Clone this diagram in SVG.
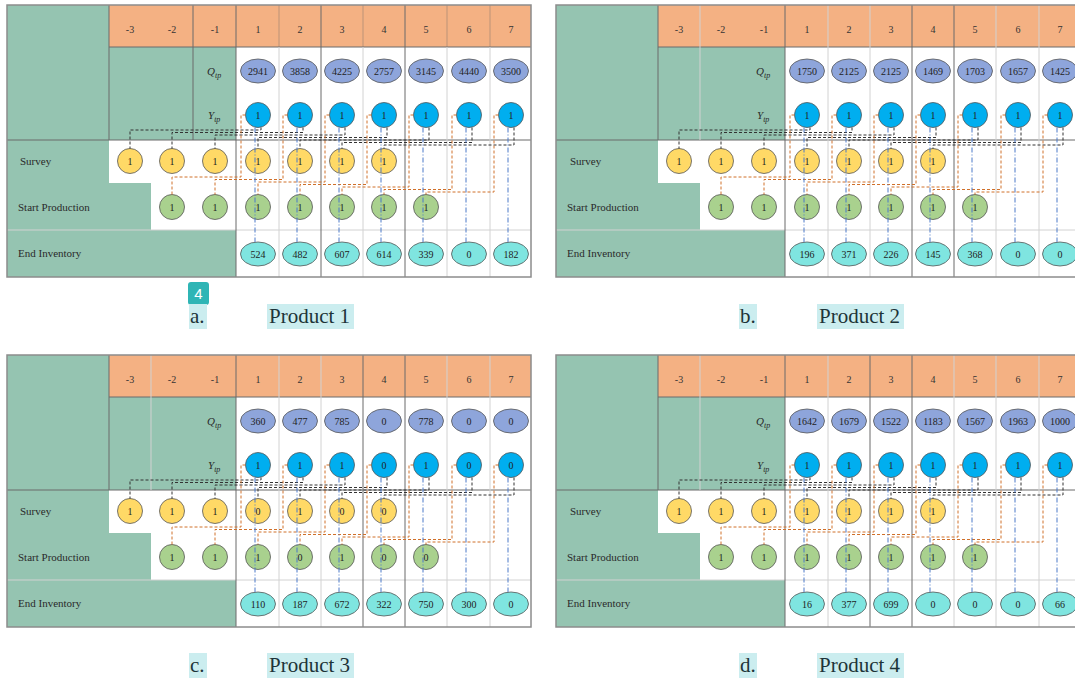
<svg xmlns="http://www.w3.org/2000/svg" xmlns:xlink="http://www.w3.org/1999/xlink" width="1075" height="682" viewBox="0 0 1075 682">
<style>
.g{fill:#95C4B1}
.h{fill:#F4B183}
.ld{stroke:#6a6a6a;stroke-width:1;fill:none}
.ll{stroke:#d2d2d2;stroke-width:1;fill:none}
.q{fill:#8EA5DB;stroke:#555;stroke-width:0.8}
.y{fill:#00AEEF;stroke:#555;stroke-width:0.8}
.s{fill:#FFD966;stroke:#555;stroke-width:0.8}
.sp{fill:#A9D18E;stroke:#555;stroke-width:0.8}
.ei{fill:#7FE5E0;stroke:#555;stroke-width:0.8}
.t{font-family:"Liberation Serif",serif;font-size:10px;text-anchor:middle;dominant-baseline:central;fill:#222}
.hd{font-family:"Liberation Serif",serif;font-size:10px;text-anchor:middle;dominant-baseline:central;fill:#333}
.lb{font-family:"Liberation Serif",serif;font-size:11px;dominant-baseline:central;fill:#2a2a2a}
.it{font-family:"Liberation Serif",serif;font-size:11px;font-style:italic;fill:#2a2a2a}
.blk{fill:none;stroke:#333;stroke-width:1;stroke-dasharray:3 2}
.org{fill:none;stroke:#D0702A;stroke-width:1;stroke-dasharray:3 2}
.blu{fill:none;stroke:#4A78C8;stroke-width:1;stroke-dasharray:5 2 1 2}
.cap{font-family:"Liberation Serif",serif;font-size:21px;fill:#1d3438}
.hl{fill:#CBEDEF}
.frame{fill:none;stroke:#8c8c8c;stroke-width:1.5}
</style>
<defs>
<g id="panelBg">
<rect x="7" y="5" width="524" height="272" fill="#fff"/>
<rect x="7" y="5" width="102" height="272" class="g"/>
<rect x="109" y="47" width="127" height="93" class="g"/>
<rect x="109" y="183" width="42" height="47" class="g"/>
<rect x="109" y="230" width="127" height="47" class="g"/>
<rect x="109" y="5" width="422" height="42" class="h"/>
<path class="ll" d="M7 230H531"/>
<path class="ld" d="M109 5V140M7 140H531M109 47H531M236 5V277"/>
</g>
</defs>

<!-- Panel a -->
<g id="panel-a">
<use xlink:href="#panelBg"/>
<path class="ld" d="M193 5V140M321 5V277M405 5V277"/>
<path class="ll" d="M279 47V277M363 47V277M447 47V277M490 47V277"/>
<path class="ld" d="M279 5V47M363 5V47M447 5V47M490 5V47" opacity="0.4"/>
<rect class="frame" x="7" y="5" width="524" height="272"/>
<g id="a-labels">
<text class="hd" x="130" y="29">-3</text><text class="hd" x="172" y="29">-2</text><text class="hd" x="215" y="29">-1</text><text class="hd" x="258" y="29">1</text><text class="hd" x="300" y="29">2</text><text class="hd" x="342" y="29">3</text><text class="hd" x="384" y="29">4</text><text class="hd" x="426" y="29">5</text><text class="hd" x="469" y="29">6</text><text class="hd" x="511" y="29">7</text>
<text class="it" x="207" y="75">Q<tspan dy="2.5" font-size="8">tp</tspan></text>
<text class="it" x="208" y="119">Y<tspan dy="2.5" font-size="8">tp</tspan></text>
<text class="lb" x="20" y="161">Survey</text>
<text class="lb" x="18" y="207">Start Production</text>
<text class="lb" x="18" y="253">End Inventory</text>
</g>
<g id="a-nodes">
<g id="a-q1"><ellipse class="q" cx="258" cy="71" rx="17.5" ry="12"/><text class="t" x="258" y="71">2941</text></g>
<g id="a-q2"><ellipse class="q" cx="300" cy="71" rx="17.5" ry="12"/><text class="t" x="300" y="71">3858</text></g>
<g id="a-q3"><ellipse class="q" cx="342" cy="71" rx="17.5" ry="12"/><text class="t" x="342" y="71">4225</text></g>
<g id="a-q4"><ellipse class="q" cx="384" cy="71" rx="17.5" ry="12"/><text class="t" x="384" y="71">2757</text></g>
<g id="a-q5"><ellipse class="q" cx="426" cy="71" rx="17.5" ry="12"/><text class="t" x="426" y="71">3145</text></g>
<g id="a-q6"><ellipse class="q" cx="469" cy="71" rx="17.5" ry="12"/><text class="t" x="469" y="71">4440</text></g>
<g id="a-q7"><ellipse class="q" cx="511" cy="71" rx="17.5" ry="12"/><text class="t" x="511" y="71">3500</text></g>
<g id="a-y1"><circle class="y" cx="258" cy="115" r="12.5"/><text class="t" x="258" y="115">1</text></g>
<g id="a-y2"><circle class="y" cx="300" cy="115" r="12.5"/><text class="t" x="300" y="115">1</text></g>
<g id="a-y3"><circle class="y" cx="342" cy="115" r="12.5"/><text class="t" x="342" y="115">1</text></g>
<g id="a-y4"><circle class="y" cx="384" cy="115" r="12.5"/><text class="t" x="384" y="115">1</text></g>
<g id="a-y5"><circle class="y" cx="426" cy="115" r="12.5"/><text class="t" x="426" y="115">1</text></g>
<g id="a-y6"><circle class="y" cx="469" cy="115" r="12.5"/><text class="t" x="469" y="115">1</text></g>
<g id="a-y7"><circle class="y" cx="511" cy="115" r="12.5"/><text class="t" x="511" y="115">1</text></g>
<g id="a-s-3"><circle class="s" cx="130" cy="161" r="12.5"/><text class="t" x="130" y="161">1</text></g>
<g id="a-s-2"><circle class="s" cx="172" cy="161" r="12.5"/><text class="t" x="172" y="161">1</text></g>
<g id="a-s-1"><circle class="s" cx="215" cy="161" r="12.5"/><text class="t" x="215" y="161">1</text></g>
<g id="a-s1"><circle class="s" cx="258" cy="161" r="12.5"/><text class="t" x="258" y="161">1</text></g>
<g id="a-s2"><circle class="s" cx="300" cy="161" r="12.5"/><text class="t" x="300" y="161">1</text></g>
<g id="a-s3"><circle class="s" cx="342" cy="161" r="12.5"/><text class="t" x="342" y="161">1</text></g>
<g id="a-s4"><circle class="s" cx="384" cy="161" r="12.5"/><text class="t" x="384" y="161">1</text></g>
<g id="a-p-2"><circle class="sp" cx="172" cy="207" r="12.5"/><text class="t" x="172" y="207">1</text></g>
<g id="a-p-1"><circle class="sp" cx="215" cy="207" r="12.5"/><text class="t" x="215" y="207">1</text></g>
<g id="a-p1"><circle class="sp" cx="258" cy="207" r="12.5"/><text class="t" x="258" y="207">1</text></g>
<g id="a-p2"><circle class="sp" cx="300" cy="207" r="12.5"/><text class="t" x="300" y="207">1</text></g>
<g id="a-p3"><circle class="sp" cx="342" cy="207" r="12.5"/><text class="t" x="342" y="207">1</text></g>
<g id="a-p4"><circle class="sp" cx="384" cy="207" r="12.5"/><text class="t" x="384" y="207">1</text></g>
<g id="a-p5"><circle class="sp" cx="426" cy="207" r="12.5"/><text class="t" x="426" y="207">1</text></g>
<g id="a-e1"><ellipse class="ei" cx="258" cy="254" rx="17.5" ry="12"/><text class="t" x="258" y="254">524</text></g>
<g id="a-e2"><ellipse class="ei" cx="300" cy="254" rx="17.5" ry="12"/><text class="t" x="300" y="254">482</text></g>
<g id="a-e3"><ellipse class="ei" cx="342" cy="254" rx="17.5" ry="12"/><text class="t" x="342" y="254">607</text></g>
<g id="a-e4"><ellipse class="ei" cx="384" cy="254" rx="17.5" ry="12"/><text class="t" x="384" y="254">614</text></g>
<g id="a-e5"><ellipse class="ei" cx="426" cy="254" rx="17.5" ry="12"/><text class="t" x="426" y="254">339</text></g>
<g id="a-e6"><ellipse class="ei" cx="469" cy="254" rx="17.5" ry="12"/><text class="t" x="469" y="254">0</text></g>
<g id="a-e7"><ellipse class="ei" cx="511" cy="254" rx="17.5" ry="12"/><text class="t" x="511" y="254">182</text></g>
</g>
<g id="a-connectors">
<path class="blk" d="M261 127.5V130H130V148.5"/>
<path class="blk" d="M303 127.5V132.5H172V148.5"/>
<path class="blk" d="M345 127.5V135H215V148.5"/>
<path class="blk" d="M387 127.5V137.5H258V148.5"/>
<path class="blk" d="M429 127.5V140H300V148.5"/>
<path class="blk" d="M472 127.5V142.5H342V148.5"/>
<path class="blk" d="M514 127.5V145H384V148.5"/>
<path class="org" d="M245.5 115H241V177H172V194.5"/>
<path class="org" d="M287.5 115H283V179.5H215V194.5"/>
<path class="org" d="M329.5 115H325V182H258V194.5"/>
<path class="org" d="M371.5 115H367V184.5H300V194.5"/>
<path class="org" d="M413.5 115H409V187H342V194.5"/>
<path class="org" d="M456.5 115H452V189.5H384V194.5"/>
<path class="org" d="M498.5 115H494V192H426V194.5"/>
<path class="blu" d="M255 127.5V242"/>
<path class="blu" d="M297 127.5V242"/>
<path class="blu" d="M339 127.5V242"/>
<path class="blu" d="M381 127.5V242"/>
<path class="blu" d="M423 127.5V242"/>
<path class="blu" d="M466 127.5V242"/>
<path class="blu" d="M508 127.5V242"/>
</g>
</g>

<!-- Panel b -->
<g id="panel-b" transform="translate(549,0)">
<use xlink:href="#panelBg"/>
<path class="ll" d="M151 5V140M279 5V277M321 5V277M447 5V277M490 5V277"/>
<path class="ld" d="M363 5V277M405 5V277"/>
<rect class="frame" x="7" y="5" width="524" height="272"/>
<g id="b-labels">
<text class="hd" x="130" y="29">-3</text><text class="hd" x="172" y="29">-2</text><text class="hd" x="215" y="29">-1</text><text class="hd" x="258" y="29">1</text><text class="hd" x="300" y="29">2</text><text class="hd" x="342" y="29">3</text><text class="hd" x="384" y="29">4</text><text class="hd" x="426" y="29">5</text><text class="hd" x="469" y="29">6</text><text class="hd" x="511" y="29">7</text>
<text class="it" x="207" y="75">Q<tspan dy="2.5" font-size="8">tp</tspan></text>
<text class="it" x="208" y="119">Y<tspan dy="2.5" font-size="8">tp</tspan></text>
<text class="lb" x="21" y="161">Survey</text>
<text class="lb" x="18" y="207">Start Production</text>
<text class="lb" x="18" y="253">End Inventory</text>
</g>
<g id="b-nodes">
<g id="b-q1"><ellipse class="q" cx="258" cy="71" rx="17.5" ry="12"/><text class="t" x="258" y="71">1750</text></g>
<g id="b-q2"><ellipse class="q" cx="300" cy="71" rx="17.5" ry="12"/><text class="t" x="300" y="71">2125</text></g>
<g id="b-q3"><ellipse class="q" cx="342" cy="71" rx="17.5" ry="12"/><text class="t" x="342" y="71">2125</text></g>
<g id="b-q4"><ellipse class="q" cx="384" cy="71" rx="17.5" ry="12"/><text class="t" x="384" y="71">1469</text></g>
<g id="b-q5"><ellipse class="q" cx="426" cy="71" rx="17.5" ry="12"/><text class="t" x="426" y="71">1703</text></g>
<g id="b-q6"><ellipse class="q" cx="469" cy="71" rx="17.5" ry="12"/><text class="t" x="469" y="71">1657</text></g>
<g id="b-q7"><ellipse class="q" cx="511" cy="71" rx="17.5" ry="12"/><text class="t" x="511" y="71">1425</text></g>
<g id="b-y1"><circle class="y" cx="258" cy="115" r="12.5"/><text class="t" x="258" y="115">1</text></g>
<g id="b-y2"><circle class="y" cx="300" cy="115" r="12.5"/><text class="t" x="300" y="115">1</text></g>
<g id="b-y3"><circle class="y" cx="342" cy="115" r="12.5"/><text class="t" x="342" y="115">1</text></g>
<g id="b-y4"><circle class="y" cx="384" cy="115" r="12.5"/><text class="t" x="384" y="115">1</text></g>
<g id="b-y5"><circle class="y" cx="426" cy="115" r="12.5"/><text class="t" x="426" y="115">1</text></g>
<g id="b-y6"><circle class="y" cx="469" cy="115" r="12.5"/><text class="t" x="469" y="115">1</text></g>
<g id="b-y7"><circle class="y" cx="511" cy="115" r="12.5"/><text class="t" x="511" y="115">1</text></g>
<g id="b-s-3"><circle class="s" cx="130" cy="161" r="12.5"/><text class="t" x="130" y="161">1</text></g>
<g id="b-s-2"><circle class="s" cx="172" cy="161" r="12.5"/><text class="t" x="172" y="161">1</text></g>
<g id="b-s-1"><circle class="s" cx="215" cy="161" r="12.5"/><text class="t" x="215" y="161">1</text></g>
<g id="b-s1"><circle class="s" cx="258" cy="161" r="12.5"/><text class="t" x="258" y="161">1</text></g>
<g id="b-s2"><circle class="s" cx="300" cy="161" r="12.5"/><text class="t" x="300" y="161">1</text></g>
<g id="b-s3"><circle class="s" cx="342" cy="161" r="12.5"/><text class="t" x="342" y="161">1</text></g>
<g id="b-s4"><circle class="s" cx="384" cy="161" r="12.5"/><text class="t" x="384" y="161">1</text></g>
<g id="b-p-2"><circle class="sp" cx="172" cy="207" r="12.5"/><text class="t" x="172" y="207">1</text></g>
<g id="b-p-1"><circle class="sp" cx="215" cy="207" r="12.5"/><text class="t" x="215" y="207">1</text></g>
<g id="b-p1"><circle class="sp" cx="258" cy="207" r="12.5"/><text class="t" x="258" y="207">1</text></g>
<g id="b-p2"><circle class="sp" cx="300" cy="207" r="12.5"/><text class="t" x="300" y="207">1</text></g>
<g id="b-p3"><circle class="sp" cx="342" cy="207" r="12.5"/><text class="t" x="342" y="207">1</text></g>
<g id="b-p4"><circle class="sp" cx="384" cy="207" r="12.5"/><text class="t" x="384" y="207">1</text></g>
<g id="b-p5"><circle class="sp" cx="426" cy="207" r="12.5"/><text class="t" x="426" y="207">1</text></g>
<g id="b-e1"><ellipse class="ei" cx="258" cy="254" rx="17.5" ry="12"/><text class="t" x="258" y="254">196</text></g>
<g id="b-e2"><ellipse class="ei" cx="300" cy="254" rx="17.5" ry="12"/><text class="t" x="300" y="254">371</text></g>
<g id="b-e3"><ellipse class="ei" cx="342" cy="254" rx="17.5" ry="12"/><text class="t" x="342" y="254">226</text></g>
<g id="b-e4"><ellipse class="ei" cx="384" cy="254" rx="17.5" ry="12"/><text class="t" x="384" y="254">145</text></g>
<g id="b-e5"><ellipse class="ei" cx="426" cy="254" rx="17.5" ry="12"/><text class="t" x="426" y="254">368</text></g>
<g id="b-e6"><ellipse class="ei" cx="469" cy="254" rx="17.5" ry="12"/><text class="t" x="469" y="254">0</text></g>
<g id="b-e7"><ellipse class="ei" cx="511" cy="254" rx="17.5" ry="12"/><text class="t" x="511" y="254">0</text></g>
</g>
<g id="b-connectors">
<path class="blk" d="M261 127.5V130H130V148.5"/>
<path class="blk" d="M303 127.5V132.5H172V148.5"/>
<path class="blk" d="M345 127.5V135H215V148.5"/>
<path class="blk" d="M387 127.5V137.5H258V148.5"/>
<path class="blk" d="M429 127.5V140H300V148.5"/>
<path class="blk" d="M472 127.5V142.5H342V148.5"/>
<path class="blk" d="M514 127.5V145H384V148.5"/>
<path class="org" d="M245.5 115H241V177H172V194.5"/>
<path class="org" d="M287.5 115H283V179.5H215V194.5"/>
<path class="org" d="M329.5 115H325V182H258V194.5"/>
<path class="org" d="M371.5 115H367V184.5H300V194.5"/>
<path class="org" d="M413.5 115H409V187H342V194.5"/>
<path class="org" d="M456.5 115H452V189.5H384V194.5"/>
<path class="org" d="M498.5 115H494V192H426V194.5"/>
<path class="blu" d="M255 127.5V242"/>
<path class="blu" d="M297 127.5V242"/>
<path class="blu" d="M339 127.5V242"/>
<path class="blu" d="M381 127.5V242"/>
<path class="blu" d="M423 127.5V242"/>
<path class="blu" d="M466 127.5V242"/>
<path class="blu" d="M508 127.5V242"/>
</g>
</g>

<!-- Panel c -->
<g id="panel-c" transform="translate(0,350)">
<use xlink:href="#panelBg"/>
<path class="ll" d="M151 5V140M279 5V277M321 5V277M447 5V277M490 5V277"/>
<path class="ld" d="M363 5V277M405 5V277"/>
<rect class="frame" x="7" y="5" width="524" height="272"/>
<g id="c-labels">
<text class="hd" x="130" y="29">-3</text><text class="hd" x="172" y="29">-2</text><text class="hd" x="215" y="29">-1</text><text class="hd" x="258" y="29">1</text><text class="hd" x="300" y="29">2</text><text class="hd" x="342" y="29">3</text><text class="hd" x="384" y="29">4</text><text class="hd" x="426" y="29">5</text><text class="hd" x="469" y="29">6</text><text class="hd" x="511" y="29">7</text>
<text class="it" x="207" y="75">Q<tspan dy="2.5" font-size="8">tp</tspan></text>
<text class="it" x="208" y="119">Y<tspan dy="2.5" font-size="8">tp</tspan></text>
<text class="lb" x="20" y="161">Survey</text>
<text class="lb" x="18" y="207">Start Production</text>
<text class="lb" x="18" y="253">End Inventory</text>
</g>
<g id="c-nodes">
<g id="c-q1"><ellipse class="q" cx="258" cy="71" rx="17.5" ry="12"/><text class="t" x="258" y="71">360</text></g>
<g id="c-q2"><ellipse class="q" cx="300" cy="71" rx="17.5" ry="12"/><text class="t" x="300" y="71">477</text></g>
<g id="c-q3"><ellipse class="q" cx="342" cy="71" rx="17.5" ry="12"/><text class="t" x="342" y="71">785</text></g>
<g id="c-q4"><ellipse class="q" cx="384" cy="71" rx="17.5" ry="12"/><text class="t" x="384" y="71">0</text></g>
<g id="c-q5"><ellipse class="q" cx="426" cy="71" rx="17.5" ry="12"/><text class="t" x="426" y="71">778</text></g>
<g id="c-q6"><ellipse class="q" cx="469" cy="71" rx="17.5" ry="12"/><text class="t" x="469" y="71">0</text></g>
<g id="c-q7"><ellipse class="q" cx="511" cy="71" rx="17.5" ry="12"/><text class="t" x="511" y="71">0</text></g>
<g id="c-y1"><circle class="y" cx="258" cy="115" r="12.5"/><text class="t" x="258" y="115">1</text></g>
<g id="c-y2"><circle class="y" cx="300" cy="115" r="12.5"/><text class="t" x="300" y="115">1</text></g>
<g id="c-y3"><circle class="y" cx="342" cy="115" r="12.5"/><text class="t" x="342" y="115">1</text></g>
<g id="c-y4"><circle class="y" cx="384" cy="115" r="12.5"/><text class="t" x="384" y="115">0</text></g>
<g id="c-y5"><circle class="y" cx="426" cy="115" r="12.5"/><text class="t" x="426" y="115">1</text></g>
<g id="c-y6"><circle class="y" cx="469" cy="115" r="12.5"/><text class="t" x="469" y="115">0</text></g>
<g id="c-y7"><circle class="y" cx="511" cy="115" r="12.5"/><text class="t" x="511" y="115">0</text></g>
<g id="c-s-3"><circle class="s" cx="130" cy="161" r="12.5"/><text class="t" x="130" y="161">1</text></g>
<g id="c-s-2"><circle class="s" cx="172" cy="161" r="12.5"/><text class="t" x="172" y="161">1</text></g>
<g id="c-s-1"><circle class="s" cx="215" cy="161" r="12.5"/><text class="t" x="215" y="161">1</text></g>
<g id="c-s1"><circle class="s" cx="258" cy="161" r="12.5"/><text class="t" x="258" y="161">0</text></g>
<g id="c-s2"><circle class="s" cx="300" cy="161" r="12.5"/><text class="t" x="300" y="161">1</text></g>
<g id="c-s3"><circle class="s" cx="342" cy="161" r="12.5"/><text class="t" x="342" y="161">0</text></g>
<g id="c-s4"><circle class="s" cx="384" cy="161" r="12.5"/><text class="t" x="384" y="161">0</text></g>
<g id="c-p-2"><circle class="sp" cx="172" cy="207" r="12.5"/><text class="t" x="172" y="207">1</text></g>
<g id="c-p-1"><circle class="sp" cx="215" cy="207" r="12.5"/><text class="t" x="215" y="207">1</text></g>
<g id="c-p1"><circle class="sp" cx="258" cy="207" r="12.5"/><text class="t" x="258" y="207">1</text></g>
<g id="c-p2"><circle class="sp" cx="300" cy="207" r="12.5"/><text class="t" x="300" y="207">0</text></g>
<g id="c-p3"><circle class="sp" cx="342" cy="207" r="12.5"/><text class="t" x="342" y="207">1</text></g>
<g id="c-p4"><circle class="sp" cx="384" cy="207" r="12.5"/><text class="t" x="384" y="207">0</text></g>
<g id="c-p5"><circle class="sp" cx="426" cy="207" r="12.5"/><text class="t" x="426" y="207">0</text></g>
<g id="c-e1"><ellipse class="ei" cx="258" cy="254" rx="17.5" ry="12"/><text class="t" x="258" y="254">110</text></g>
<g id="c-e2"><ellipse class="ei" cx="300" cy="254" rx="17.5" ry="12"/><text class="t" x="300" y="254">187</text></g>
<g id="c-e3"><ellipse class="ei" cx="342" cy="254" rx="17.5" ry="12"/><text class="t" x="342" y="254">672</text></g>
<g id="c-e4"><ellipse class="ei" cx="384" cy="254" rx="17.5" ry="12"/><text class="t" x="384" y="254">322</text></g>
<g id="c-e5"><ellipse class="ei" cx="426" cy="254" rx="17.5" ry="12"/><text class="t" x="426" y="254">750</text></g>
<g id="c-e6"><ellipse class="ei" cx="469" cy="254" rx="17.5" ry="12"/><text class="t" x="469" y="254">300</text></g>
<g id="c-e7"><ellipse class="ei" cx="511" cy="254" rx="17.5" ry="12"/><text class="t" x="511" y="254">0</text></g>
</g>
<g id="c-connectors">
<path class="blk" d="M261 127.5V130H130V148.5"/>
<path class="blk" d="M303 127.5V132.5H172V148.5"/>
<path class="blk" d="M345 127.5V135H215V148.5"/>
<path class="blk" d="M387 127.5V137.5H258V148.5"/>
<path class="blk" d="M429 127.5V140H300V148.5"/>
<path class="blk" d="M472 127.5V142.5H342V148.5"/>
<path class="blk" d="M514 127.5V145H384V148.5"/>
<path class="org" d="M245.5 115H241V177H172V194.5"/>
<path class="org" d="M287.5 115H283V179.5H215V194.5"/>
<path class="org" d="M329.5 115H325V182H258V194.5"/>
<path class="org" d="M371.5 115H367V184.5H300V194.5"/>
<path class="org" d="M413.5 115H409V187H342V194.5"/>
<path class="org" d="M456.5 115H452V189.5H384V194.5"/>
<path class="org" d="M498.5 115H494V192H426V194.5"/>
<path class="blu" d="M255 127.5V242"/>
<path class="blu" d="M297 127.5V242"/>
<path class="blu" d="M339 127.5V242"/>
<path class="blu" d="M381 127.5V242"/>
<path class="blu" d="M423 127.5V242"/>
<path class="blu" d="M466 127.5V242"/>
<path class="blu" d="M508 127.5V242"/>
</g>
</g>

<!-- Panel d -->
<g id="panel-d" transform="translate(549,350)">
<use xlink:href="#panelBg"/>
<path class="ll" d="M151 5V140M279 5V277M405 5V277M447 5V277M490 5V277"/>
<path class="ld" d="M321 5V277M363 5V277"/>
<rect class="frame" x="7" y="5" width="524" height="272"/>
<g id="d-labels">
<text class="hd" x="130" y="29">-3</text><text class="hd" x="172" y="29">-2</text><text class="hd" x="215" y="29">-1</text><text class="hd" x="258" y="29">1</text><text class="hd" x="300" y="29">2</text><text class="hd" x="342" y="29">3</text><text class="hd" x="384" y="29">4</text><text class="hd" x="426" y="29">5</text><text class="hd" x="469" y="29">6</text><text class="hd" x="511" y="29">7</text>
<text class="it" x="207" y="75">Q<tspan dy="2.5" font-size="8">tp</tspan></text>
<text class="it" x="208" y="119">Y<tspan dy="2.5" font-size="8">tp</tspan></text>
<text class="lb" x="21" y="161">Survey</text>
<text class="lb" x="18" y="207">Start Production</text>
<text class="lb" x="18" y="253">End Inventory</text>
</g>
<g id="d-nodes">
<g id="d-q1"><ellipse class="q" cx="258" cy="71" rx="17.5" ry="12"/><text class="t" x="258" y="71">1642</text></g>
<g id="d-q2"><ellipse class="q" cx="300" cy="71" rx="17.5" ry="12"/><text class="t" x="300" y="71">1679</text></g>
<g id="d-q3"><ellipse class="q" cx="342" cy="71" rx="17.5" ry="12"/><text class="t" x="342" y="71">1522</text></g>
<g id="d-q4"><ellipse class="q" cx="384" cy="71" rx="17.5" ry="12"/><text class="t" x="384" y="71">1183</text></g>
<g id="d-q5"><ellipse class="q" cx="426" cy="71" rx="17.5" ry="12"/><text class="t" x="426" y="71">1567</text></g>
<g id="d-q6"><ellipse class="q" cx="469" cy="71" rx="17.5" ry="12"/><text class="t" x="469" y="71">1963</text></g>
<g id="d-q7"><ellipse class="q" cx="511" cy="71" rx="17.5" ry="12"/><text class="t" x="511" y="71">1000</text></g>
<g id="d-y1"><circle class="y" cx="258" cy="115" r="12.5"/><text class="t" x="258" y="115">1</text></g>
<g id="d-y2"><circle class="y" cx="300" cy="115" r="12.5"/><text class="t" x="300" y="115">1</text></g>
<g id="d-y3"><circle class="y" cx="342" cy="115" r="12.5"/><text class="t" x="342" y="115">1</text></g>
<g id="d-y4"><circle class="y" cx="384" cy="115" r="12.5"/><text class="t" x="384" y="115">1</text></g>
<g id="d-y5"><circle class="y" cx="426" cy="115" r="12.5"/><text class="t" x="426" y="115">1</text></g>
<g id="d-y6"><circle class="y" cx="469" cy="115" r="12.5"/><text class="t" x="469" y="115">1</text></g>
<g id="d-y7"><circle class="y" cx="511" cy="115" r="12.5"/><text class="t" x="511" y="115">1</text></g>
<g id="d-s-3"><circle class="s" cx="130" cy="161" r="12.5"/><text class="t" x="130" y="161">1</text></g>
<g id="d-s-2"><circle class="s" cx="172" cy="161" r="12.5"/><text class="t" x="172" y="161">1</text></g>
<g id="d-s-1"><circle class="s" cx="215" cy="161" r="12.5"/><text class="t" x="215" y="161">1</text></g>
<g id="d-s1"><circle class="s" cx="258" cy="161" r="12.5"/><text class="t" x="258" y="161">1</text></g>
<g id="d-s2"><circle class="s" cx="300" cy="161" r="12.5"/><text class="t" x="300" y="161">1</text></g>
<g id="d-s3"><circle class="s" cx="342" cy="161" r="12.5"/><text class="t" x="342" y="161">1</text></g>
<g id="d-s4"><circle class="s" cx="384" cy="161" r="12.5"/><text class="t" x="384" y="161">1</text></g>
<g id="d-p-2"><circle class="sp" cx="172" cy="207" r="12.5"/><text class="t" x="172" y="207">1</text></g>
<g id="d-p-1"><circle class="sp" cx="215" cy="207" r="12.5"/><text class="t" x="215" y="207">1</text></g>
<g id="d-p1"><circle class="sp" cx="258" cy="207" r="12.5"/><text class="t" x="258" y="207">1</text></g>
<g id="d-p2"><circle class="sp" cx="300" cy="207" r="12.5"/><text class="t" x="300" y="207">1</text></g>
<g id="d-p3"><circle class="sp" cx="342" cy="207" r="12.5"/><text class="t" x="342" y="207">1</text></g>
<g id="d-p4"><circle class="sp" cx="384" cy="207" r="12.5"/><text class="t" x="384" y="207">1</text></g>
<g id="d-p5"><circle class="sp" cx="426" cy="207" r="12.5"/><text class="t" x="426" y="207">1</text></g>
<g id="d-e1"><ellipse class="ei" cx="258" cy="254" rx="17.5" ry="12"/><text class="t" x="258" y="254">16</text></g>
<g id="d-e2"><ellipse class="ei" cx="300" cy="254" rx="17.5" ry="12"/><text class="t" x="300" y="254">377</text></g>
<g id="d-e3"><ellipse class="ei" cx="342" cy="254" rx="17.5" ry="12"/><text class="t" x="342" y="254">699</text></g>
<g id="d-e4"><ellipse class="ei" cx="384" cy="254" rx="17.5" ry="12"/><text class="t" x="384" y="254">0</text></g>
<g id="d-e5"><ellipse class="ei" cx="426" cy="254" rx="17.5" ry="12"/><text class="t" x="426" y="254">0</text></g>
<g id="d-e6"><ellipse class="ei" cx="469" cy="254" rx="17.5" ry="12"/><text class="t" x="469" y="254">0</text></g>
<g id="d-e7"><ellipse class="ei" cx="511" cy="254" rx="17.5" ry="12"/><text class="t" x="511" y="254">66</text></g>
</g>
<g id="d-connectors">
<path class="blk" d="M261 127.5V130H130V148.5"/>
<path class="blk" d="M303 127.5V132.5H172V148.5"/>
<path class="blk" d="M345 127.5V135H215V148.5"/>
<path class="blk" d="M387 127.5V137.5H258V148.5"/>
<path class="blk" d="M429 127.5V140H300V148.5"/>
<path class="blk" d="M472 127.5V142.5H342V148.5"/>
<path class="blk" d="M514 127.5V145H384V148.5"/>
<path class="org" d="M245.5 115H241V177H172V194.5"/>
<path class="org" d="M287.5 115H283V179.5H215V194.5"/>
<path class="org" d="M329.5 115H325V182H258V194.5"/>
<path class="org" d="M371.5 115H367V184.5H300V194.5"/>
<path class="org" d="M413.5 115H409V187H342V194.5"/>
<path class="org" d="M456.5 115H452V189.5H384V194.5"/>
<path class="org" d="M498.5 115H494V192H426V194.5"/>
<path class="blu" d="M255 127.5V242"/>
<path class="blu" d="M297 127.5V242"/>
<path class="blu" d="M339 127.5V242"/>
<path class="blu" d="M381 127.5V242"/>
<path class="blu" d="M423 127.5V242"/>
<path class="blu" d="M466 127.5V242"/>
<path class="blu" d="M508 127.5V242"/>
</g>
</g>

<!-- Captions -->
<g id="captions">
<g id="badge"><rect x="188" y="282" width="21" height="23" rx="3" fill="#2FB5B5"/><text x="198.5" y="299" font-family="'Liberation Sans',sans-serif" font-size="15" fill="#fff" text-anchor="middle">4</text></g>
<rect class="hl" x="189" y="304" width="18" height="25"/><text class="cap" x="190" y="323">a.</text>
<rect class="hl" x="267" y="304" width="87" height="25"/><text class="cap" x="269" y="323">Product 1</text>
<rect class="hl" x="739" y="304" width="18" height="25"/><text class="cap" x="740" y="323">b.</text>
<rect class="hl" x="817" y="304" width="87" height="25"/><text class="cap" x="819" y="323">Product 2</text>
<rect class="hl" x="189" y="653" width="18" height="25"/><text class="cap" x="190" y="672">c.</text>
<rect class="hl" x="267" y="653" width="87" height="25"/><text class="cap" x="269" y="672">Product 3</text>
<rect class="hl" x="739" y="653" width="18" height="25"/><text class="cap" x="740" y="672">d.</text>
<rect class="hl" x="817" y="653" width="87" height="25"/><text class="cap" x="819" y="672">Product 4</text>
</g>
</svg>
